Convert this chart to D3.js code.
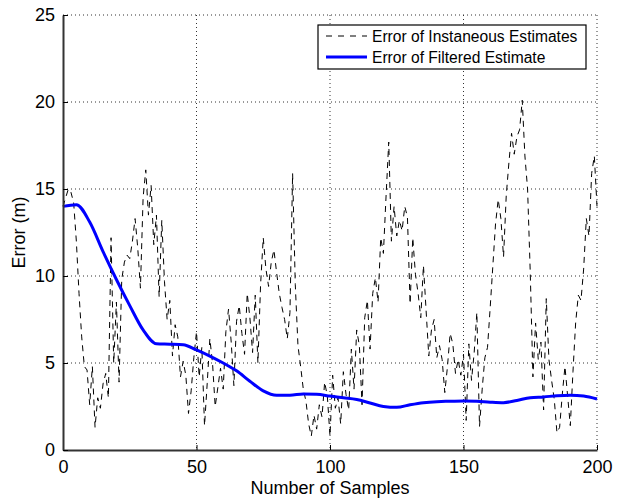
<!DOCTYPE html>
<meta charset="utf-8">
<style>
body { margin: 0; background: #fff; }
svg { font-family: "Liberation Sans", Arial, sans-serif; }
.grid line { stroke: #333; stroke-width: 1; stroke-dasharray: 1,3; }
.tick-label { font-size: 18px; fill: #000; }
</style>
<body>
<div id="chart"></div>
<script src="https://cdn.jsdelivr.net/npm/d3@7"></script>
<script>
// instantaneous error, one value per sample 0..200
var instantErr = [
  14.0, 14.5, 15.0, 14.8, 14.2, 12.0, 9.0, 6.5, 4.8, 4.6,
  2.6, 4.8, 1.3, 3.0, 2.4, 3.8, 4.4, 3.0, 12.2, 5.0,
  8.5, 3.9, 9.8, 10.8, 11.2, 11.0, 12.0, 13.3, 11.6, 9.3,
  14.5, 16.1, 13.5, 15.2, 11.8, 13.5, 8.8, 13.2, 9.7, 7.5,
  8.6, 5.4, 7.2, 6.5, 4.2, 5.1, 4.3, 2.1, 3.4, 5.3,
  6.8, 4.2, 5.9, 1.4, 3.8, 6.4, 5.0, 2.5, 3.6, 4.7,
  3.5, 6.8, 8.1, 6.2, 3.7, 7.4, 8.3, 6.7, 5.5, 9.0,
  7.6, 5.6, 8.9, 5.0, 9.5, 12.2, 10.4, 9.4, 10.8, 11.5,
  10.2, 9.0, 8.2, 7.5, 6.4, 7.9, 15.9, 9.5, 6.0, 4.8,
  3.5, 2.8, 1.5, 0.8, 2.0, 1.2, 2.6, 1.9, 3.9, 3.1,
  0.8, 4.3, 2.4, 3.0, 1.5, 4.5, 3.2, 2.3, 5.8, 3.5,
  6.9, 6.0, 2.6, 7.6, 8.6, 5.8, 9.0, 9.9, 8.5, 12.2,
  11.3, 14.6, 17.7, 12.0, 14.0, 12.3, 13.2, 12.6, 14.0, 13.4,
  8.4, 12.2, 10.1, 9.0, 7.6, 10.6, 8.0, 5.4, 6.9, 7.5,
  5.3, 6.0, 5.2, 3.3, 4.8, 6.7, 6.1, 4.4, 5.2, 4.3,
  5.5, 1.7, 6.1, 4.0, 5.6, 7.9, 1.35, 3.5, 5.3, 5.9,
  8.2, 10.6, 13.0, 14.4, 13.3, 11.1, 14.6, 16.5, 18.2, 17.0,
  18.0, 18.4, 20.1, 16.9, 15.0, 10.2, 4.2, 7.3, 5.2, 6.2,
  2.3, 8.7, 5.2, 4.0, 2.9, 1.0, 1.3, 3.2, 4.8, 3.1,
  1.4, 4.5, 7.3, 8.9, 8.6, 10.4, 13.3, 12.3, 15.9, 16.9,
  14.0
];

// filtered error, read every 5 samples
var filtSamples = [0, 5, 10, 15, 20, 25, 30, 35, 40, 45, 50, 55, 60, 65, 70, 75, 80, 85, 90, 95, 100,
  105, 110, 115, 120, 125, 130, 135, 140, 145, 150, 155, 160, 165, 170, 175, 180, 185, 190, 195, 200];
var filtErr = [14.0, 14.1, 13.1, 11.4, 9.8, 8.3, 6.9, 6.1, 6.08, 6.05, 5.75, 5.4, 5.0, 4.55, 3.95, 3.4, 3.15, 3.15, 3.22, 3.2, 3.1,
  3.0, 2.9, 2.7, 2.5, 2.45, 2.6, 2.72, 2.78, 2.8, 2.82, 2.8, 2.75, 2.72, 2.85, 3.0, 3.05, 3.12, 3.15, 3.1, 2.93];

var xTicks = [0, 50, 100, 150, 200];
var yTicks = [0, 5, 10, 15, 20, 25];
var legendLabels = ["Error of Instaneous Estimates", "Error of Filtered Estimate"];

var margin = { top: 15, right: 23, bottom: 48, left: 63 },
    width = 620 - margin.left - margin.right,
    height = 498 - margin.top - margin.bottom;

var x = d3.scaleLinear().domain([0, 200]).range([0, width]);
var y = d3.scaleLinear().domain([0, 25]).range([height, 0]);

var svg = d3.select("#chart").append("svg")
    .attr("width", 620)
    .attr("height", 498)
  .append("g")
    .attr("transform", "translate(" + margin.left + "," + margin.top + ")");

// dotted grid
var grid = svg.append("g").attr("class", "grid");
grid.selectAll(".gx").data(xTicks.slice(1)).enter().append("line")
    .attr("x1", function(d) { return x(d); }).attr("x2", function(d) { return x(d); })
    .attr("y1", 0).attr("y2", height);
grid.selectAll(".gy").data(yTicks.slice(1)).enter().append("line")
    .attr("x1", 0).attr("x2", width)
    .attr("y1", function(d) { return y(d); }).attr("y2", function(d) { return y(d); });

// data lines
var instLine = d3.line()
    .x(function(d, i) { return x(i); })
    .y(function(d) { return y(d); });

svg.append("path")
    .datum(instantErr)
    .attr("d", instLine)
    .attr("fill", "none")
    .attr("stroke", "#000")
    .attr("stroke-width", 1)
    .attr("stroke-dasharray", "6,5");

var filtLine = d3.line()
    .curve(d3.curveMonotoneX)
    .x(function(d, i) { return x(filtSamples[i]); })
    .y(function(d) { return y(d); });

svg.append("path")
    .datum(filtErr)
    .attr("d", filtLine)
    .attr("fill", "none")
    .attr("stroke", "#0000ff")
    .attr("stroke-width", 3)
    .attr("stroke-linejoin", "round");

// axes (inward ticks, matlab style)
var xAxis = d3.axisBottom(x).tickValues(xTicks).tickSize(-5).tickPadding(12).tickSizeOuter(0);
var yAxis = d3.axisLeft(y).tickValues(yTicks).tickSize(-5).tickPadding(12).tickSizeOuter(0);

var gx = svg.append("g")
    .attr("transform", "translate(0," + height + ")")
    .call(xAxis);
var gy = svg.append("g").call(yAxis);

[gx, gy].forEach(function(g) {
  g.select(".domain").attr("stroke", "#333").attr("stroke-width", 2);
  g.selectAll(".tick line").attr("stroke", "#000");
  g.selectAll(".tick text").attr("class", "tick-label").attr("fill", "#000")
    .style("font-family", "'Liberation Sans', Arial, sans-serif").style("font-size", "18px");
});
gy.selectAll(".tick text").attr("dx", "4");
gx.selectAll(".tick text").attr("dy", "0.6em");

// axis labels
svg.append("text")
    .attr("x", width / 2)
    .attr("y", height + 44)
    .attr("text-anchor", "middle")
    .style("font-size", "18px")
    .text("Number of Samples");

svg.append("text")
    .attr("transform", "translate(" + (25 - margin.left) + "," + (height / 2) + ") rotate(-90)")
    .attr("text-anchor", "middle")
    .style("font-size", "18px")
    .text("Error (m)");

// legend
var lg = svg.append("g").attr("transform", "translate(" + (318 - margin.left) + "," + (25 - margin.top) + ")");
lg.append("rect")
    .attr("width", 268).attr("height", 44)
    .attr("fill", "#fff").attr("stroke", "#000").attr("stroke-width", 1.2);
lg.append("line")
    .attr("x1", 8).attr("x2", 49).attr("y1", 11).attr("y2", 11)
    .attr("stroke", "#000").attr("stroke-width", 1).attr("stroke-dasharray", "6,6");
lg.append("line")
    .attr("x1", 8).attr("x2", 49).attr("y1", 32).attr("y2", 32)
    .attr("stroke", "#0000ff").attr("stroke-width", 3);
lg.selectAll(".lt").data(legendLabels).enter().append("text")
    .attr("x", 54)
    .attr("y", function(d, i) { return 17 + i * 21; })
    .style("font-size", "15.6px")
    .text(function(d) { return d; });
</script>
</body>
